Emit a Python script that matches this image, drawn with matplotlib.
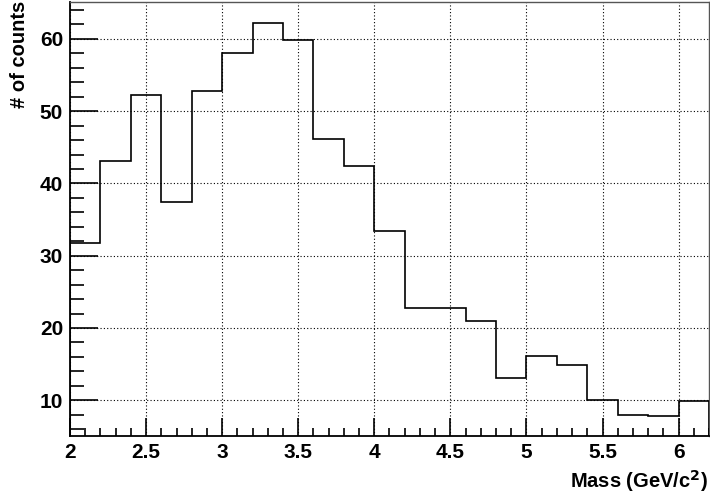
import numpy as np
import matplotlib
matplotlib.use("Agg")
import matplotlib.pyplot as plt
from matplotlib.ticker import MultipleLocator

bin_edges = [2.0, 2.2, 2.4, 2.6, 2.8, 3.0, 3.2, 3.4, 3.6, 3.8, 4.0, 4.2,
             4.4, 4.6, 4.8, 5.0, 5.2, 5.4, 5.6, 5.8, 6.0, 6.2]
counts = [31.7, 43.1, 52.2, 37.5, 52.85, 58.0, 62.25, 59.9, 46.2, 42.4, 33.4,
          22.75, 22.75, 20.9, 13.07, 16.06, 14.9, 10.0, 7.95, 7.8, 9.9]
x_ticks = [2, 2.5, 3, 3.5, 4, 4.5, 5, 5.5, 6]
x_tick_labels = ["2", "2.5", "3", "3.5", "4", "4.5", "5", "5.5", "6"]
y_ticks = [10, 20, 30, 40, 50, 60]

plt.rcParams['font.family'] = ['Liberation Sans', 'DejaVu Sans']

fig = plt.figure(figsize=(7.1, 4.95), dpi=100)
ax = fig.add_axes([70/710, (495-435.7)/495, (709-70)/710, (435.7-2)/495])

ax.stairs(counts, bin_edges, color='black', linewidth=1.2, zorder=3)

ax.set_xlim(2.0, 6.2)
ax.set_ylim(5.1, 65.1)

ax.set_xticks(x_ticks)
ax.set_xticklabels(x_tick_labels)
ax.set_yticks(y_ticks)
ax.xaxis.set_minor_locator(MultipleLocator(0.1))
ax.yaxis.set_minor_locator(MultipleLocator(2))

ax.grid(True, which='major', color='black', linestyle=(0, (1, 2)), linewidth=0.8)

ax.tick_params(axis='x', which='major', direction='in', length=13, width=1.2,
               labelsize=15, pad=5)
ax.tick_params(axis='x', which='minor', direction='in', length=6, width=1.2)
ax.tick_params(axis='y', which='major', direction='in', length=20, width=1.2,
               labelsize=15, pad=5)
ax.tick_params(axis='y', which='minor', direction='in', length=10, width=1.2)
ax.tick_params(top=False, right=False, which='both')
for lab in ax.get_xticklabels() + ax.get_yticklabels():
    lab.set_fontweight('bold')

ax.spines['left'].set_linewidth(1.3)
ax.spines['bottom'].set_linewidth(1.3)
ax.spines['top'].set_color('#555555')
ax.spines['right'].set_color('#555555')
ax.spines['top'].set_linewidth(1.0)
ax.spines['right'].set_linewidth(1.0)

fig.text(708/710, 1 - 481/495, r"Mass (GeV/c$^{\mathbf{2}}$)", ha='right', va='center',
         fontsize=14.5, fontweight='bold')
fig.text(20/710, 1 - 1/495, "# of counts", ha='center', va='top', rotation=90,
         fontsize=14.5, fontweight='bold')

fig.savefig("out.png", dpi=100)
